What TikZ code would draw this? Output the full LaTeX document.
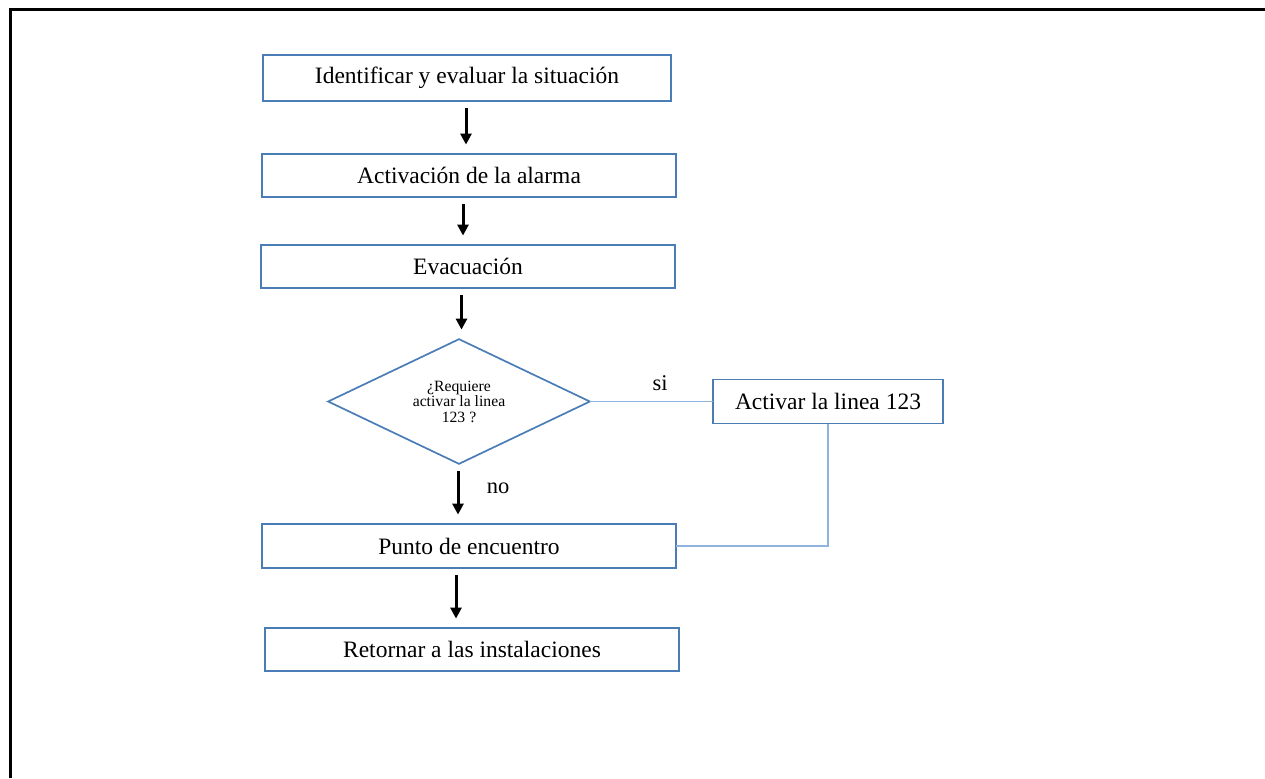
\documentclass[tikz,border=0pt]{standalone}
\usepackage{fontspec}
\setmainfont{Liberation Serif}
\usepackage{tikz}
\usetikzlibrary{positioning,arrows.meta,shapes.geometric,calc}
\definecolor{boxblue}{HTML}{4A7DB5}
\definecolor{linkblue}{HTML}{8FB4DE}
\tikzset{
  flowarrow/.style={-{Triangle[length=5.5pt,width=5.5pt]}, line width=1.5pt, black, shorten <=3.5pt, shorten >=4.5pt},
  link/.style={draw=linkblue, line width=0.95pt},
  frameline/.style={draw=black, line width=1.5pt},
  stepbox/.style={draw=boxblue, line width=0.85pt, minimum width=414pt, minimum height=43pt, inner sep=0pt, align=center, font=\fontsize{23.5}{28}\selectfont},
  decision/.style={diamond, draw=boxblue, line width=0.85pt, aspect=2.1, inner sep=0pt, minimum width=262pt, minimum height=125pt, align=center, font=\fontsize{15.7}{15.5}\selectfont},
  lbl/.style={inner sep=0pt, font=\fontsize{22.5}{26}\selectfont}
}
\begin{document}
\begin{tikzpicture}[x=1pt, y=1pt, scale=0.5, every node/.style={transform shape}]
      \useasboundingbox (0,0) rectangle (1265,-778);
      \draw[frameline] (10,-778) -- (10,-9) -- (1265,-9);
      \node[stepbox, minimum width=408pt, minimum height=46pt] (ident) at (467,-78) {Identificar y evaluar la situación};
      \node[stepbox] (activ) at (469,-175.5) {Activación de la alarma};
      \node[stepbox] (evac) at (468,-266.5) {Evacuación};
      \node[decision] (deci) at (459,-401.5) {¿Requiere\\activar la linea\\123 ?};
      \node[stepbox, minimum width=230pt, minimum height=44pt] (linea) at (828,-401.5) {Activar la linea 123};
      \node[stepbox, minimum height=44pt] (punto) at (469,-546) {Punto de encuentro};
      \node[stepbox] (retor) at (472,-649.5) {Retornar a las instalaciones};
      \node[lbl] (si) at (660,-383) {si};
      \node[lbl] (no) at (498,-488) {no};
      \draw[flowarrow] ($(ident.south)+(-1,0)$) -- ($(activ.north)+(-3,0)$);
      \draw[flowarrow] ($(activ.south)+(-6,0)$) -- ($(evac.north)+(-5,0)$);
      \draw[flowarrow] ($(evac.south)+(-6.5,0)$) -- ($(deci.north)+(2.5,0)$);
      \draw[flowarrow] ($(deci.south)+(-1,0)$) -- ($(punto.north)+(-11,0)$);
      \draw[flowarrow] ($(punto.south)+(-13,0)$) -- ($(retor.north)+(-16,0)$);
      \draw[link] (deci.east) -- (linea.west);
      \draw[link] (linea.south) |- (punto.east);
    \end{tikzpicture}
\end{document}
